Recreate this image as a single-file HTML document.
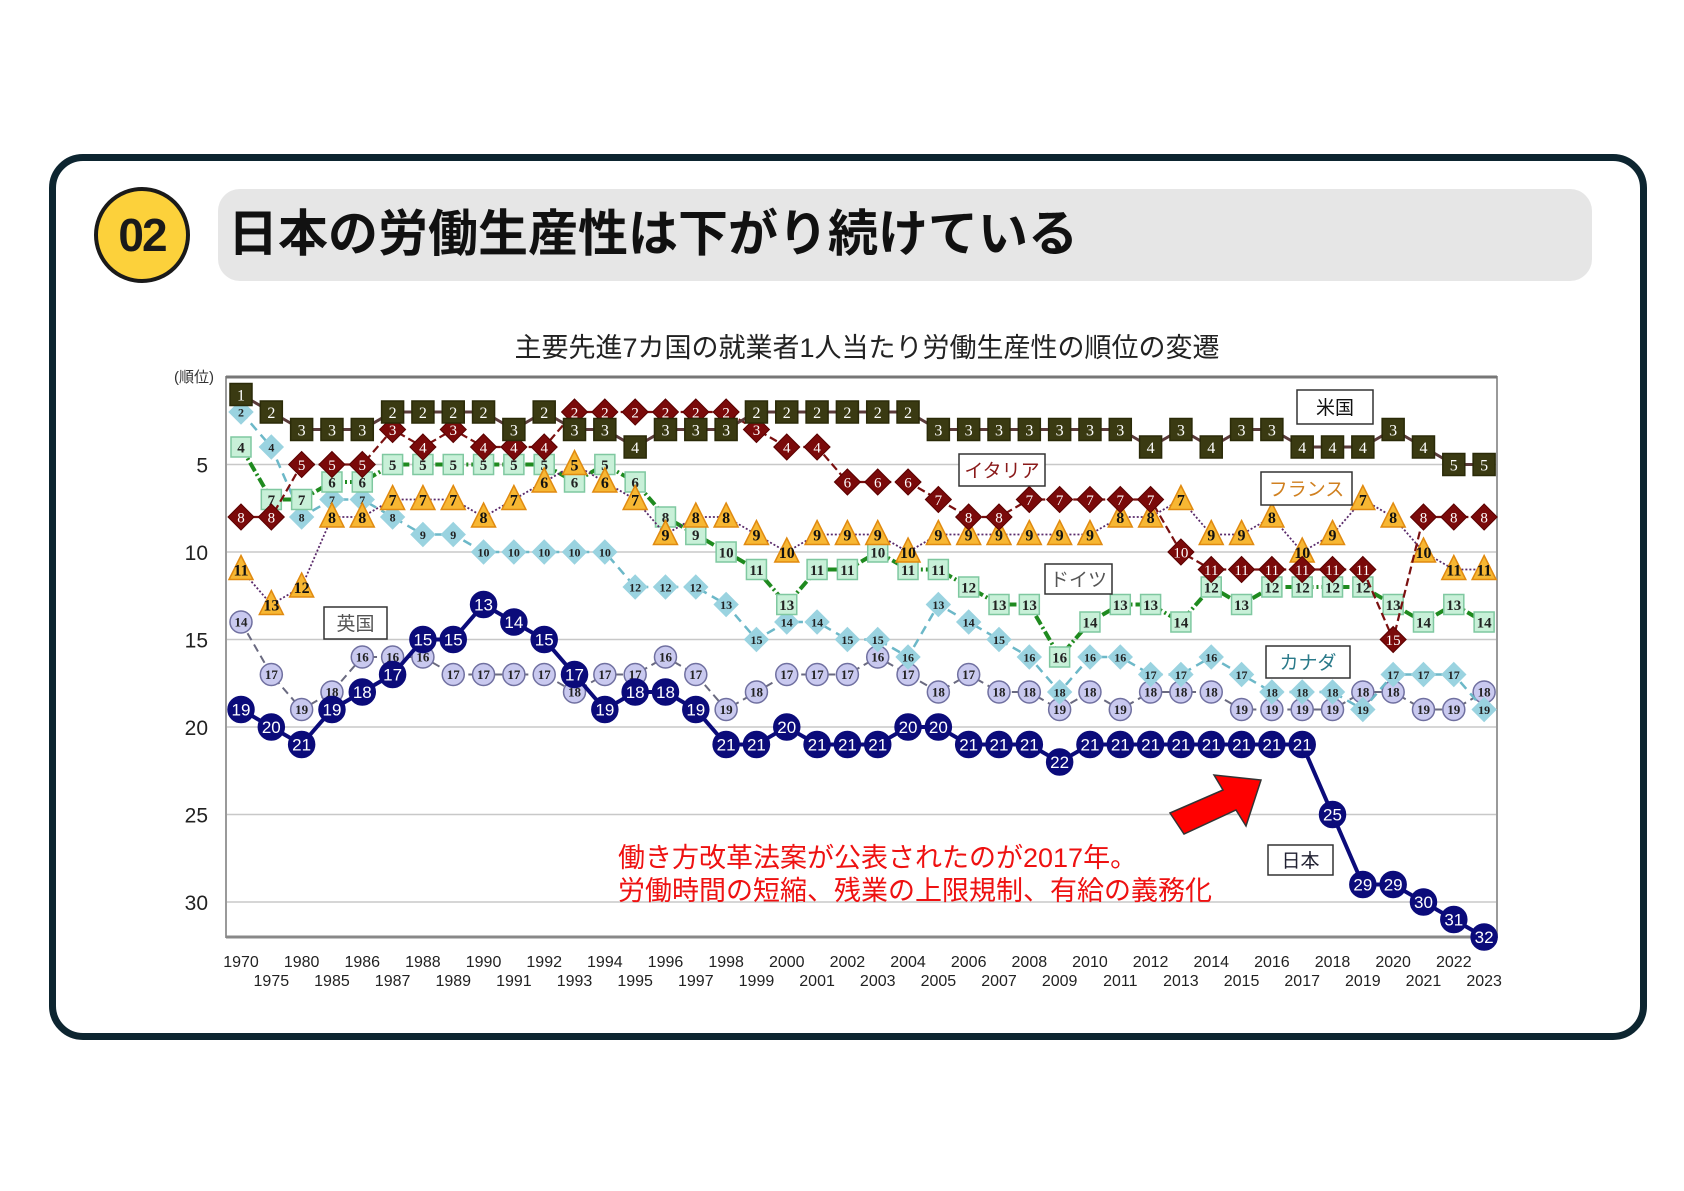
<!DOCTYPE html>
<html><head><meta charset="utf-8">
<style>
html,body{margin:0;padding:0;background:#fff;}
body{width:1684px;height:1191px;position:relative;overflow:hidden;font-family:"Liberation Sans","Noto Sans CJK JP",sans-serif;}
#frame{position:absolute;left:49px;top:154px;width:1584px;height:872px;border:7px solid #0d2530;border-radius:34px;}
#badge{position:absolute;left:94px;top:187px;width:88px;height:88px;border-radius:50%;background:#fcd13b;border:4px solid #1a1a1a;font:bold 46px "Liberation Sans",sans-serif;color:#1a1a1a;text-align:center;line-height:88px;letter-spacing:-2px;}
#titlebar{position:absolute;left:218px;top:189px;width:1374px;height:92px;border-radius:22px;background:#e6e6e6;}
#titletext{position:absolute;left:228px;top:194px;font:bold 50px "Liberation Sans","Noto Sans CJK JP",sans-serif;color:#111;white-space:nowrap;}
svg{position:absolute;left:0;top:0;}
</style></head><body>
<div id="frame"></div>
<div id="badge">02</div>
<div id="titlebar"></div>
<div id="titletext">日本の労働生産性は下がり続けている</div>
<svg id="chart" width="1684" height="1191"></svg>
<script>
const years=["1970","1975","1980","1985","1986","1987","1988","1989","1990","1991","1992","1993","1994","1995","1996","1997","1998","1999","2000","2001","2002","2003","2004","2005","2006","2007","2008","2009","2010","2011","2012","2013","2014","2015","2016","2017","2018","2019","2020","2021","2022","2023"];
const yTicks=[5,10,15,20,25,30];
const usa=[1,2,3,3,3,2,2,2,2,3,2,3,3,4,3,3,3,2,2,2,2,2,2,3,3,3,3,3,3,3,4,3,4,3,3,4,4,4,3,4,5,5];
const italy=[8,8,5,5,5,3,4,3,4,4,4,2,2,2,2,2,2,3,4,4,6,6,6,7,8,8,7,7,7,7,7,10,11,11,11,11,11,11,15,8,8,8];
const france=[11,13,12,8,8,7,7,7,8,7,6,5,6,7,9,8,8,9,10,9,9,9,10,9,9,9,9,9,9,8,8,7,9,9,8,10,9,7,8,10,11,11];
const germany=[4,7,7,6,6,5,5,5,5,5,5,6,5,6,8,9,10,11,13,11,11,10,11,11,12,13,13,16,14,13,13,14,12,13,12,12,12,12,13,14,13,14];
const canada=[2,4,8,7,7,8,9,9,10,10,10,10,10,12,12,12,13,15,14,14,15,15,16,13,14,15,16,18,16,16,17,17,16,17,18,18,18,19,17,17,17,19];
const uk=[14,17,19,18,16,16,16,17,17,17,17,18,17,17,16,17,19,18,17,17,17,16,17,18,17,18,18,19,18,19,18,18,18,19,19,19,19,18,18,19,19,18];
const japan=[19,20,21,19,18,17,15,15,13,14,15,17,19,18,18,19,21,21,20,21,21,21,20,20,21,21,21,22,21,21,21,21,21,21,21,21,25,29,29,30,31,32];

const NS="http://www.w3.org/2000/svg";
const svg=document.getElementById('chart');
const PL=226,PR=1497,PT=377,PB=937;
const X0=241,DX=30.32;
function xs(i){return X0+i*DX;}
function ys(r){return PT+(r)*(PB-PT)/32;}
function mk(tag,attrs,parent){const e=document.createElementNS(NS,tag);for(const k in attrs)e.setAttribute(k,attrs[k]);(parent||svg).appendChild(e);return e;}
function txt(x,y,s,attrs,parent){const t=mk('text',Object.assign({x:x,y:y},attrs),parent);t.textContent=s;return t;}

const ct=txt(867,357,"主要先進7カ国の就業者1人当たり労働生産性の順位の変遷",{'text-anchor':'middle','font-size':'27','fill':'#222','font-family':'"Liberation Sans","Noto Sans CJK JP",sans-serif'});


const yl=txt(194,382,"(順位)",{'text-anchor':'middle','font-size':'15','fill':'#333','font-family':'"Liberation Sans","Noto Sans CJK JP",sans-serif'});



yTicks.forEach(v=>{
  const g=mk('line',{x1:PL,x2:PR,y1:ys(v),y2:ys(v),stroke:'#c8c8c8','stroke-width':1.5});
  
  
  const t=txt(208,ys(v)+8,String(v),{'text-anchor':'end','font-size':'21','fill':'#222'});
  
  
});
const border=mk('rect',{x:PL,y:PT,width:PR-PL,height:PB-PT,fill:'none',stroke:'#9a9a9a','stroke-width':2});


mk('line',{x1:PL,x2:PR,y1:PT,y2:PT,stroke:'#777','stroke-width':3});
mk('line',{x1:PL,x2:PR,y1:PB,y2:PB,stroke:'#888','stroke-width':3});

years.forEach((y,i)=>{
  const lower=(i===1)||(i>=3&&(i%2===1));
  const t=txt(xs(i),lower?986:967,y,{'text-anchor':'middle','font-size':'16','fill':'#222'});
  
  
});

function series(name,data,lineColor,dash,width,marker,fill,stroke,textColor,size,fs,fw){
  const g=mk('g',{});
  
  
  const pts=data.map((v,i)=>xs(i)+','+ys(v)).join(' ');
  const l=mk('polyline',{points:pts,fill:'none',stroke:lineColor,'stroke-width':width,'stroke-dasharray':dash},g);
  
  
  data.forEach((v,i)=>{
    const cx=xs(i),cy=ys(v);let m;
    if(marker==='sq')m=mk('rect',{x:cx-size,y:cy-size,width:size*2,height:size*2,fill:fill,stroke:stroke,'stroke-width':1.5},g);
    else if(marker==='di')m=mk('polygon',{points:`${cx},${cy-size} ${cx+size},${cy} ${cx},${cy+size} ${cx-size},${cy}`,fill:fill,stroke:stroke,'stroke-width':1},g);
    else if(marker==='tri')m=mk('polygon',{points:`${cx},${cy-size-3} ${cx+size+1},${cy+size-1} ${cx-size-1},${cy+size-1}`,fill:fill,stroke:stroke,'stroke-width':1.5},g);
    else m=mk('circle',{cx:cx,cy:cy,r:size,fill:fill,stroke:stroke,'stroke-width':1.5},g);
    
    
    txt(cx,cy+fs*0.36,String(v),{'text-anchor':'middle','font-size':fs,'fill':textColor,'font-weight':fw,'font-family':marker==='ci'&&name==='japan'?'"Liberation Sans",sans-serif':'"Liberation Serif",serif'},g);
  });
}
series('uk',uk,'#6a6a80','8,5',2,'ci','#c9c9ef','#7070a0','#222',11,13,'bold');
series('canada',canada,'#6cb8c8','9,6',2.5,'di','#9ad3e0','#9ad3e0','#222',12,12,'bold');
series('germany',germany,'#1f8a1f','10,3,2,3',4,'sq','#c8f0d8','#7fc8a0','#222',10,15,'bold');
series('france',france,'#5a2a6a','2,2',1.8,'tri','#f7b733','#e08a10','#111',11,16,'bold');
series('italy',italy,'#7a1010','8,4',2.2,'di','#7a0a0a','#5a0000','#fff',13,15,'normal');
series('usa',usa,'#5a3a3a','',3,'sq','#3a3a12','#2a2a08','#fff',11,16,'normal');
series('japan',japan,'#0b0b7a','',4,'ci','#0b0b7a','#0b0b7a','#fff',13,17,'normal');

function box(name,x,y,w,h,label,color){
  const g=mk('g',{});
  
  
  mk('rect',{x:x,y:y,width:w,height:h,fill:'#fff',stroke:'#333','stroke-width':1.5},g);
  txt(x+w/2,y+h/2+7,label,{'text-anchor':'middle','font-size':'19','fill':color,'font-family':'"Liberation Sans","Noto Sans CJK JP",sans-serif'},g);
}
box('usa',1297,390,76,34,'米国','#111');
box('italy',959,454,86,32,'イタリア','#8a1a1a');
box('france',1261,472,91,33,'フランス','#d08020');
box('germany',1045,564,67,30,'ドイツ','#555');
box('uk',324,607,63,32,'英国','#555');
box('canada',1266,646,84,32,'カナダ','#2a7a8a');
box('japan',1268,845,65,30,'日本','#223');

const ar=mk('polygon',{points:'1170,813 1223,790 1214,775 1261,780 1246,826 1236,810 1184,834',fill:'#ff0000',stroke:'#333','stroke-width':1.5});


const a1=txt(618,867,"働き方改革法案が公表されたのが2017年。",{'font-size':'27','fill':'#ee1111','font-family':'"Liberation Sans","Noto Sans CJK JP",sans-serif'});


const a2=txt(618,900,"労働時間の短縮、残業の上限規制、有給の義務化",{'font-size':'27','fill':'#ee1111','font-family':'"Liberation Sans","Noto Sans CJK JP",sans-serif'});


</script>
</body></html>
